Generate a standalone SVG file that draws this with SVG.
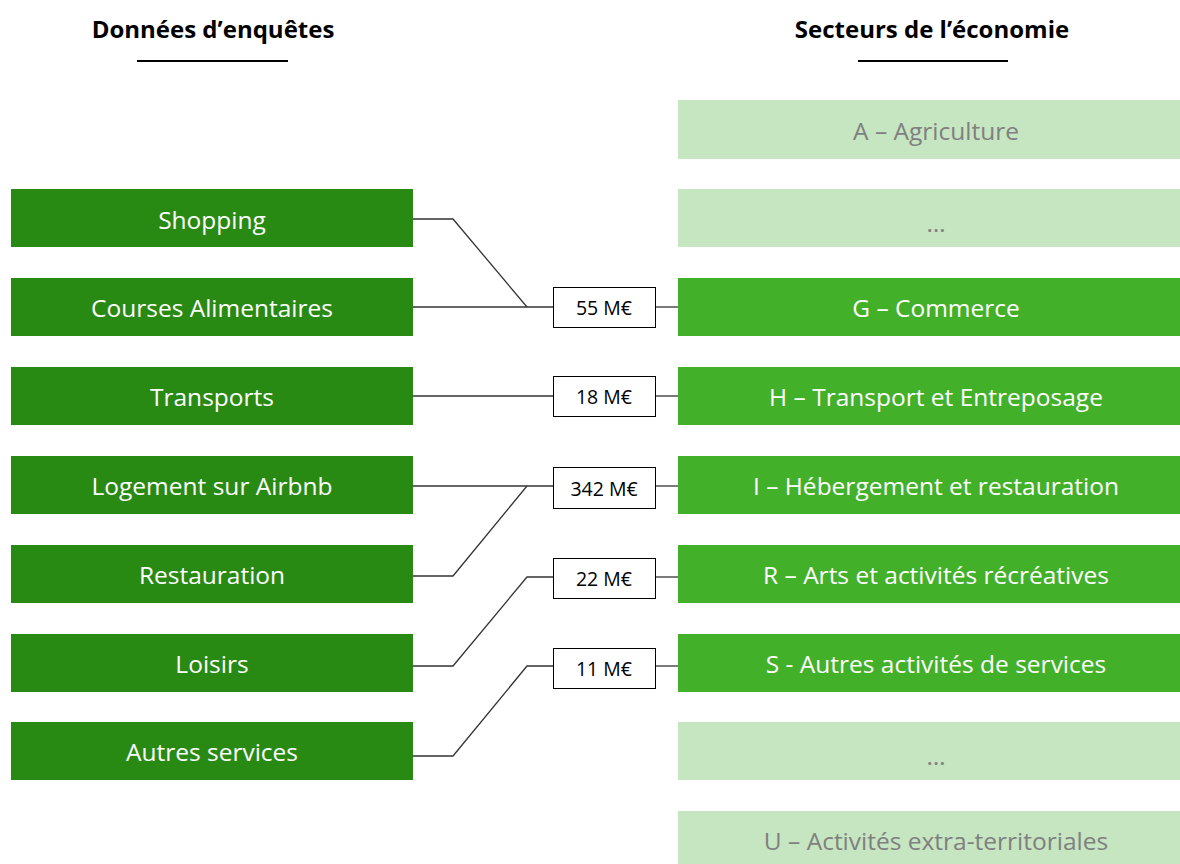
<svg xmlns="http://www.w3.org/2000/svg" width="1180" height="864" viewBox="0 0 1180 864">
<style>
text{font-family:"Open Sans","Liberation Sans",sans-serif;text-anchor:middle;dominant-baseline:central}
.l{fill:#288a12}
.r{fill:#43b02a}
.p{fill:#c6e5c1}
.t{font-size:24.5px;fill:#ffffff}
.tp{font-size:24.5px;fill:#808080}
.h{font-size:24px;font-weight:bold;fill:#000}
.v{fill:#fff;stroke:#000;stroke-width:1}
.vt{font-size:19.5px;fill:#000}
.c{fill:none;stroke:#333;stroke-width:1.3}
</style>
<rect width="1180" height="864" fill="#fff"/>
<g id="headers">
<text class="h" x="213" y="28">Données d’enquêtes</text>
<line x1="137" y1="61" x2="288" y2="61" stroke="#000" stroke-width="2"/>
<text class="h" x="932" y="28">Secteurs de l’économie</text>
<line x1="858" y1="61" x2="1008" y2="61" stroke="#000" stroke-width="2"/>
</g>
<g id="connectors">
<polyline class="c" points="413,219 453,219 527,307"/>
<line class="c" x1="413" y1="307" x2="553" y2="307"/>
<line class="c" x1="655" y1="307" x2="678" y2="307"/>
<line class="c" x1="413" y1="396" x2="553" y2="396"/>
<line class="c" x1="655" y1="396" x2="678" y2="396"/>
<line class="c" x1="413" y1="486" x2="553" y2="486"/>
<polyline class="c" points="413,576 453,576 527,486"/>
<line class="c" x1="655" y1="486" x2="678" y2="486"/>
<polyline class="c" points="413,666 453,666 527,577 553,577"/>
<line class="c" x1="655" y1="577" x2="678" y2="577"/>
<polyline class="c" points="413,756 453,756 527,666 553,666"/>
<line class="c" x1="655" y1="666" x2="678" y2="666"/>
</g>
<g id="n-shopping"><rect class="l" x="11" y="189" width="402" height="58"/><text class="t" x="212" y="219">Shopping</text></g>
<g id="n-courses"><rect class="l" x="11" y="278" width="402" height="58"/><text class="t" x="212" y="307">Courses Alimentaires</text></g>
<g id="n-transports"><rect class="l" x="11" y="367" width="402" height="58"/><text class="t" x="212" y="396">Transports</text></g>
<g id="n-logement"><rect class="l" x="11" y="456" width="402" height="58"/><text class="t" x="212" y="485">Logement sur Airbnb</text></g>
<g id="n-restauration"><rect class="l" x="11" y="545" width="402" height="58"/><text class="t" x="212" y="574">Restauration</text></g>
<g id="n-loisirs"><rect class="l" x="11" y="634" width="402" height="58"/><text class="t" x="212" y="663">Loisirs</text></g>
<g id="n-autres"><rect class="l" x="11" y="722" width="402" height="58"/><text class="t" x="212" y="751">Autres services</text></g>
<g id="v-55"><rect class="v" x="553.5" y="287.5" width="102" height="40"/><text class="vt" x="604" y="307">55 M€</text></g>
<g id="v-18"><rect class="v" x="553.5" y="376.5" width="102" height="40"/><text class="vt" x="604" y="396">18 M€</text></g>
<g id="v-342"><rect class="v" x="553.5" y="467.5" width="102" height="41"/><text class="vt" x="604" y="488">342 M€</text></g>
<g id="v-22"><rect class="v" x="553.5" y="558.5" width="102" height="40"/><text class="vt" x="604" y="578">22 M€</text></g>
<g id="v-11"><rect class="v" x="553.5" y="648.5" width="102" height="40"/><text class="vt" x="604" y="668">11 M€</text></g>
<g id="s-a"><rect class="p" x="678" y="100" width="502" height="59"/><text class="tp" x="936" y="130">A – Agriculture</text></g>
<g id="s-dots1"><rect class="p" x="678" y="189" width="502" height="58"/><text class="tp" x="936" y="222">…</text></g>
<g id="s-g"><rect class="r" x="678" y="278" width="502" height="58"/><text class="t" x="936" y="307">G – Commerce</text></g>
<g id="s-h"><rect class="r" x="678" y="367" width="502" height="58"/><text class="t" x="936" y="396">H – Transport et Entreposage</text></g>
<g id="s-i"><rect class="r" x="678" y="456" width="502" height="58"/><text class="t" x="936" y="485">I – Hébergement et restauration</text></g>
<g id="s-r"><rect class="r" x="678" y="545" width="502" height="58"/><text class="t" x="936" y="574">R – Arts et activités récréatives</text></g>
<g id="s-s"><rect class="r" x="678" y="634" width="502" height="58"/><text class="t" x="936" y="663">S - Autres activités de services</text></g>
<g id="s-dots2"><rect class="p" x="678" y="722" width="502" height="58"/><text class="tp" x="936" y="755">…</text></g>
<g id="s-u"><rect class="p" x="678" y="811" width="502" height="58"/><text class="tp" x="936" y="840">U – Activités extra-territoriales</text></g>
</svg>
